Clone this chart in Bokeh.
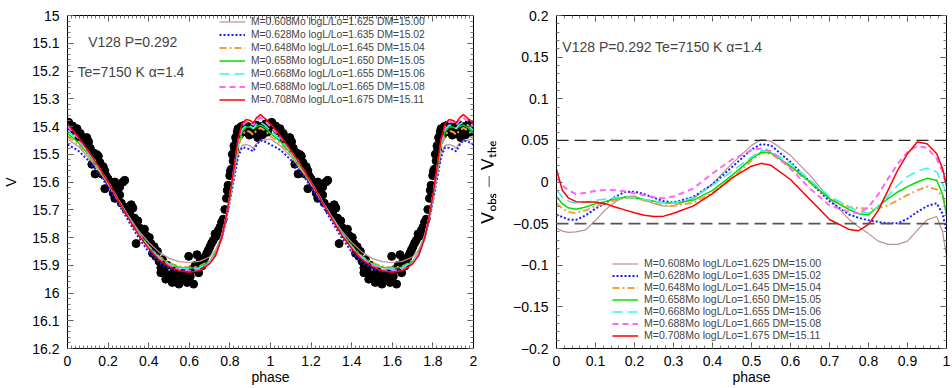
from bokeh.plotting import figure
from bokeh.models import (Range1d, LinearAxis, SingleIntervalTicker, CustomJSTickFormatter,
                          Legend, LegendItem, Label, Span, CustomLabelingPolicy)
from bokeh.layouts import row
from bokeh.embed import file_html
from bokeh.resources import INLINE

FONT = "Liberation Sans"

# ---------------- data ----------------
MODEL_LABELS = [
    "M=0.608Mo logL/Lo=1.625 DM=15.00",
    "M=0.628Mo logL/Lo=1.635 DM=15.02",
    "M=0.648Mo logL/Lo=1.645 DM=15.04",
    "M=0.658Mo logL/Lo=1.650 DM=15.05",
    "M=0.668Mo logL/Lo=1.655 DM=15.06",
    "M=0.688Mo logL/Lo=1.665 DM=15.08",
    "M=0.708Mo logL/Lo=1.675 DM=15.11",
]

# model light curves (one cycle)
LC_PHASE = [0.0, 0.05, 0.10, 0.15, 0.20, 0.25, 0.30, 0.35, 0.40, 0.45, 0.50, 0.55, 0.60, 0.65,
            0.70, 0.73, 0.76, 0.78, 0.80, 0.82, 0.84, 0.86, 0.88, 0.90, 0.915, 0.93, 0.95, 0.975, 1.0]
LC_M0608 = [15.445, 15.470, 15.508, 15.555, 15.608, 15.665, 15.722, 15.775, 15.818, 15.852, 15.875, 15.887, 15.890, 15.886,
            15.870, 15.845, 15.790, 15.730, 15.660, 15.580, 15.500, 15.468, 15.465, 15.470, 15.478, 15.462, 15.450, 15.448, 15.445]
LC_M0628 = [15.465, 15.485, 15.520, 15.565, 15.618, 15.677, 15.740, 15.800, 15.852, 15.890, 15.912, 15.922, 15.922, 15.914,
            15.890, 15.860, 15.802, 15.742, 15.670, 15.590, 15.510, 15.475, 15.477, 15.483, 15.490, 15.468, 15.450, 15.455, 15.465]
LC_M0648 = [15.435, 15.462, 15.502, 15.551, 15.606, 15.666, 15.727, 15.784, 15.832, 15.868, 15.891, 15.904, 15.908, 15.904,
            15.884, 15.855, 15.796, 15.734, 15.658, 15.572, 15.482, 15.430, 15.415, 15.420, 15.430, 15.415, 15.405, 15.415, 15.435]
LC_M0658 = [15.425, 15.455, 15.497, 15.547, 15.603, 15.664, 15.726, 15.784, 15.833, 15.870, 15.894, 15.907, 15.911, 15.907,
            15.886, 15.856, 15.796, 15.732, 15.654, 15.565, 15.472, 15.418, 15.402, 15.402, 15.408, 15.400, 15.395, 15.405, 15.425]
LC_M0668 = [15.415, 15.448, 15.492, 15.544, 15.601, 15.663, 15.726, 15.785, 15.834, 15.872, 15.896, 15.910, 15.914, 15.910,
            15.888, 15.858, 15.797, 15.732, 15.652, 15.560, 15.465, 15.410, 15.395, 15.397, 15.407, 15.393, 15.384, 15.397, 15.415]
LC_M0688 = [15.400, 15.440, 15.488, 15.542, 15.600, 15.664, 15.728, 15.788, 15.838, 15.876, 15.900, 15.915, 15.920, 15.915,
            15.892, 15.862, 15.800, 15.732, 15.650, 15.555, 15.455, 15.398, 15.383, 15.385, 15.395, 15.380, 15.368, 15.382, 15.400]
LC_M0708 = [15.390, 15.435, 15.485, 15.540, 15.600, 15.665, 15.730, 15.790, 15.840, 15.880, 15.905, 15.920, 15.925, 15.920,
            15.895, 15.865, 15.800, 15.730, 15.647, 15.550, 15.445, 15.390, 15.375, 15.378, 15.388, 15.370, 15.357, 15.372, 15.390]

# observed V magnitudes (one cycle, plotted twice)
OBS_PHASE = [0.000, 0.006, 0.015, 0.025, 0.035, 0.047, 0.055, 0.063, 0.075, 0.087, 0.095, 0.104, 0.112, 0.120,
             0.128, 0.136, 0.144, 0.152, 0.160, 0.168, 0.176, 0.184, 0.184, 0.192, 0.200, 0.208, 0.217, 0.225,
             0.233, 0.233, 0.245, 0.257, 0.257, 0.265, 0.273, 0.282, 0.290, 0.298, 0.306, 0.314, 0.322, 0.330,
             0.338, 0.338, 0.346, 0.354, 0.362, 0.370, 0.379, 0.387, 0.395, 0.403, 0.411, 0.419, 0.427, 0.435,
             0.443, 0.451, 0.460, 0.460, 0.468, 0.476, 0.484, 0.492, 0.500, 0.508, 0.516, 0.524, 0.532, 0.540,
             0.549, 0.557, 0.565, 0.573, 0.581, 0.589, 0.597, 0.605, 0.613, 0.621, 0.630, 0.638, 0.646, 0.654,
             0.662, 0.670, 0.678, 0.686, 0.694, 0.702, 0.710, 0.718, 0.727, 0.735, 0.743, 0.751, 0.759, 0.767,
             0.775, 0.783, 0.787, 0.791, 0.799, 0.803, 0.807, 0.812, 0.816, 0.820, 0.824, 0.828, 0.832, 0.836,
             0.840, 0.848, 0.856, 0.864, 0.872, 0.880, 0.888, 0.896, 0.904, 0.913, 0.921, 0.929, 0.937, 0.945,
             0.953, 0.961, 0.969, 0.977, 0.985, 0.993]
OBS_V = [15.390, 15.385, 15.400, 15.398, 15.415, 15.408, 15.440, 15.425, 15.450, 15.460, 15.440, 15.455, 15.478, 15.536,
         15.495, 15.571, 15.501, 15.507, 15.530, 15.571, 15.545, 15.560, 15.624, 15.580, 15.589, 15.600, 15.612, 15.640,
         15.600, 15.659, 15.630, 15.618, 15.647, 15.676, 15.600, 15.594, 15.700, 15.690, 15.711, 15.682, 15.694, 15.730,
         15.752, 15.822, 15.740, 15.765, 15.775, 15.790, 15.770, 15.793, 15.810, 15.800, 15.822, 15.857, 15.833, 15.868,
         15.850, 15.886, 15.909, 15.927, 15.880, 15.921, 15.950, 15.900, 15.935, 15.945, 15.962, 15.920, 15.950, 15.935,
         15.968, 15.930, 15.950, 15.938, 15.925, 15.962, 15.868, 15.940, 15.915, 15.968, 15.900, 15.862, 15.927, 15.880,
         15.903, 15.892, 15.870, 15.857, 15.845, 15.833, 15.820, 15.810, 15.787, 15.795, 15.775, 15.763, 15.745, 15.734,
         15.699, 15.659, 15.630, 15.612, 15.577, 15.560, 15.554, 15.500, 15.524, 15.470, 15.484, 15.440, 15.449, 15.420,
         15.408, 15.430, 15.400, 15.414, 15.395, 15.420, 15.400, 15.431, 15.420, 15.402, 15.425, 15.395, 15.440, 15.414,
         15.400, 15.430, 15.410, 15.390, 15.420, 15.405]

# residuals V_obs - V_the (smoothed)
RES_PHASE = [0.0, 0.015, 0.03, 0.05, 0.075, 0.1, 0.125, 0.15, 0.175, 0.2, 0.225, 0.25, 0.275, 0.3, 0.35, 0.4, 0.45,
             0.5, 0.525, 0.55, 0.6, 0.65, 0.7, 0.75, 0.775, 0.8, 0.825, 0.85, 0.875, 0.9, 0.925, 0.95, 0.975, 0.99, 1.0]
RES_M0608 = [-0.0555, -0.059, -0.0605, -0.060, -0.0575, -0.046, -0.0335, -0.024, -0.0176, -0.017, -0.0216, -0.026, -0.029,
             -0.0285, -0.020, -0.002, 0.022, 0.044, 0.051, 0.049, 0.032, 0.008, -0.020, -0.045, -0.054, -0.062, -0.071,
             -0.075, -0.075, -0.071, -0.058, -0.0455, -0.0415, -0.060, -0.089]
RES_M0628 = [-0.0395, -0.042, -0.045, -0.0455, -0.040, -0.032, -0.0256, -0.018, -0.012, -0.0116, -0.0145, -0.019, -0.023,
             -0.0247, -0.018, -0.003, 0.018, 0.039, 0.0455, 0.044, 0.024, 0.000, -0.023, -0.039, -0.043, -0.046, -0.048,
             -0.0495, -0.0495, -0.044, -0.036, -0.029, -0.0255, -0.038, -0.0595]
RES_M0648 = [-0.0256, -0.032, -0.036, -0.0375, -0.034, -0.029, -0.0256, -0.022, -0.019, -0.019, -0.022, -0.025, -0.028,
             -0.0287, -0.025, -0.013, 0.004, 0.026, 0.035, 0.034, 0.018, -0.001, -0.020, -0.030, -0.0315, -0.032, -0.0315,
             -0.028, -0.022, -0.0156, -0.010, -0.0056, -0.009, -0.018, -0.0295]
RES_M0658 = [-0.0176, -0.026, -0.031, -0.0327, -0.030, -0.026, -0.0236, -0.020, -0.0184, -0.019, -0.021, -0.023, -0.025,
             -0.0255, -0.022, -0.010, 0.008, 0.028, 0.036, 0.035, 0.019, 0.000, -0.020, -0.033, -0.038, -0.0395, -0.029,
             -0.020, -0.012, -0.0056, 0.000, 0.0044, 0.002, -0.015, -0.040]
RES_M0668 = [-0.0096, -0.018, -0.023, -0.0255, -0.0245, -0.022, -0.0204, -0.019, -0.0184, -0.019, -0.021, -0.023, -0.025,
             -0.0255, -0.019, -0.004, 0.013, 0.030, 0.038, 0.037, 0.0224, 0.002, -0.017, -0.030, -0.035, -0.0375, -0.030,
             -0.017, -0.004, 0.0064, 0.013, 0.0164, 0.012, -0.002, -0.0136]
RES_M0688 = [0.005, -0.004, -0.010, -0.0144, -0.013, -0.0105, -0.0096, -0.0098, -0.0112, -0.0135, -0.016, -0.018, -0.0195,
             -0.0175, -0.008, 0.0104, 0.027, 0.038, 0.0404, 0.037, 0.016, -0.008, -0.028, -0.036, -0.0375, -0.030, -0.015,
             0.004, 0.022, 0.036, 0.0435, 0.041, 0.028, 0.012, -0.005]
RES_M0708 = [0.015, -0.010, -0.019, -0.0236, -0.024, -0.024, -0.026, -0.030, -0.0335, -0.037, -0.040, -0.0415, -0.041,
             -0.0375, -0.029, -0.014, 0.005, 0.019, 0.0224, 0.020, 0.003, -0.021, -0.045, -0.057, -0.0585, -0.051, -0.034,
             -0.010, 0.0144, 0.034, 0.048, 0.046, 0.034, 0.016, -0.005]

RES_LIMITS = [0.05, -0.05]

LC_SERIES = [LC_M0608, LC_M0628, LC_M0648, LC_M0658, LC_M0668, LC_M0688, LC_M0708]
RES_SERIES = [RES_M0608, RES_M0628, RES_M0648, RES_M0658, RES_M0668, RES_M0688, RES_M0708]

TITLE_1 = "V128 P=0.292"
TITLE_2 = "Te=7150 K \u03b1=1.4"
TITLE_R = "V128 P=0.292 Te=7150 K \u03b1=1.4"

# ---------------- styles ----------------
COLORS = ["#bc8f8f", "#1a1aff", "#f0a040", "#00e000", "#40f0f0", "#ff66ff", "#ff0000"]
DASHES = ["solid", "2 2", "7 3 2 3", "solid", "10 5", "6 4", "solid"]
WIDTHS = [1.2, 2.0, 2.0, 1.5, 1.6, 2.0, 1.5]

HIDE_CODE = """
const out = [];
for (const i of indices) out.push(i);
for (const i of out) { if (indices.unset) indices.unset(i); else indices.set(i, false); }
return indices;
"""


def fmt_code(nd):
    return ("var m = Math.pow(10, %d); var v = Math.round(tick*m)/m;"
            "if (Math.abs(v) < 1e-9) v = 0;"
            "return v < 0 ? '\\u2212' + (-v) : '' + v;" % nd)


def style(p, xint, xminor, yint, yminor, nd_x, nd_y, xlabel, ylabel, ylab_standoff):
    p.xgrid.visible = False
    p.ygrid.visible = False
    p.outline_line_color = "black"
    p.background_fill_color = "white"
    p.border_fill_color = "white"
    xt = SingleIntervalTicker(interval=xint, num_minor_ticks=xminor)
    yt = SingleIntervalTicker(interval=yint, num_minor_ticks=yminor)
    axes = {}
    for place, tick, nd in (("below", xt, nd_x), ("above", xt, nd_x), ("left", yt, nd_y), ("right", yt, nd_y)):
        ax = LinearAxis(ticker=tick, formatter=CustomJSTickFormatter(code=fmt_code(nd)))
        ax.axis_line_color = "black"
        ax.major_tick_in = 6
        ax.major_tick_out = 0
        ax.minor_tick_in = 3
        ax.minor_tick_out = 0
        ax.major_tick_line_color = "#555555"
        ax.minor_tick_line_color = "#777777"
        if place in ("below", "left"):
            ax.major_label_text_font = FONT
            ax.major_label_text_font_size = "14px"
            ax.major_label_text_color = "black"
            ax.major_label_standoff = 7 if place == "below" else 8
            ax.axis_label_text_font = FONT
            ax.axis_label_text_font_size = "14px"
            ax.axis_label_text_font_style = "normal"
            ax.axis_label_text_color = "black"
            ax.axis_label_standoff = 0 if place == "below" else ylab_standoff
            ax.axis_label = xlabel if place == "below" else ylabel
        else:
            ax.major_label_text_font_size = "1px"
            ax.major_label_standoff = 0
            ax.major_label_policy = CustomLabelingPolicy(code=HIDE_CODE)
        p.add_layout(ax, place)
        axes[place] = ax
    return axes


# ---------------- left panel ----------------
p1 = figure(width=478, height=388, x_range=Range1d(0, 2), y_range=Range1d(16.2, 15.0),
            output_backend="svg", toolbar_location=None,
            x_axis_location=None, y_axis_location=None,
            min_border_left=62, min_border_right=4, min_border_top=6, min_border_bottom=40)
style(p1, 0.2, 10, 0.1, 5, 1, 1, "phase", "V", 10)

obs_x = OBS_PHASE + [ph + 1 for ph in OBS_PHASE]
obs_y = OBS_V + OBS_V
p1.scatter(obs_x, obs_y, size=8, color="black")

lc_x = LC_PHASE + [ph + 1 for ph in LC_PHASE[1:]]
items1 = []
for lab, ser, c, d, w in zip(MODEL_LABELS, LC_SERIES, COLORS, DASHES, WIDTHS):
    r = p1.line(lc_x, ser + ser[1:], line_color=c, line_dash=d, line_width=w)
    items1.append(LegendItem(label=lab, renderers=[r]))

leg1 = Legend(items=items1, location=(152, 242))
p1.add_layout(leg1)

p1.add_layout(Label(x=0.102, y=15.096, text=TITLE_1, text_font=FONT, text_font_size="14px",
                    text_baseline="middle"))
p1.add_layout(Label(x=0.049, y=15.204, text=TITLE_2, text_font=FONT, text_font_size="14px",
                    text_baseline="middle"))

# ---------------- right panel ----------------
p2 = figure(width=474, height=388, x_range=Range1d(0, 1), y_range=Range1d(-0.2, 0.2),
            output_backend="svg", toolbar_location=None,
            x_axis_location=None, y_axis_location=None,
            min_border_left=73, min_border_right=5, min_border_top=15, min_border_bottom=39)
style(p2, 0.1, 5, 0.05, 5, 1, 2, "phase", r"$$\mathsf{V_{obs}-V_{the}}$$", 13)

for lim, col, lw in zip(RES_LIMITS, ["#222222", "#555555"], [1.2, 1.8]):
    p2.add_layout(Span(location=lim, dimension="width", line_color=col,
                       line_dash="12 6", line_width=lw))

items2 = []
for lab, ser, c, d, w in zip(MODEL_LABELS, RES_SERIES, COLORS, DASHES, WIDTHS):
    r = p2.line(RES_PHASE, ser, line_color=c, line_dash=d, line_width=w)
    items2.append(LegendItem(label=lab, renderers=[r]))
leg2 = Legend(items=items2, location=(56, 7))
p2.add_layout(leg2)

p2.add_layout(Label(x=0.015, y=0.162, text=TITLE_R, text_font=FONT, text_font_size="14px",
                    text_baseline="middle"))

for leg, lh, fs in ((leg1, 13, "10.3px"), (leg2, 11, "10.5px")):
    leg.border_line_color = None
    leg.background_fill_alpha = 0
    leg.label_text_font = FONT
    leg.label_text_font_size = fs
    leg.label_text_line_height = 1.0
    leg.glyph_width = 26
    leg.glyph_height = lh
    leg.label_height = lh
    leg.spacing = 0
    leg.padding = 0
    leg.margin = 0
    leg.label_standoff = 6

layout = row(p1, p2)
open("out.html", "w").write(file_html(layout, INLINE))
